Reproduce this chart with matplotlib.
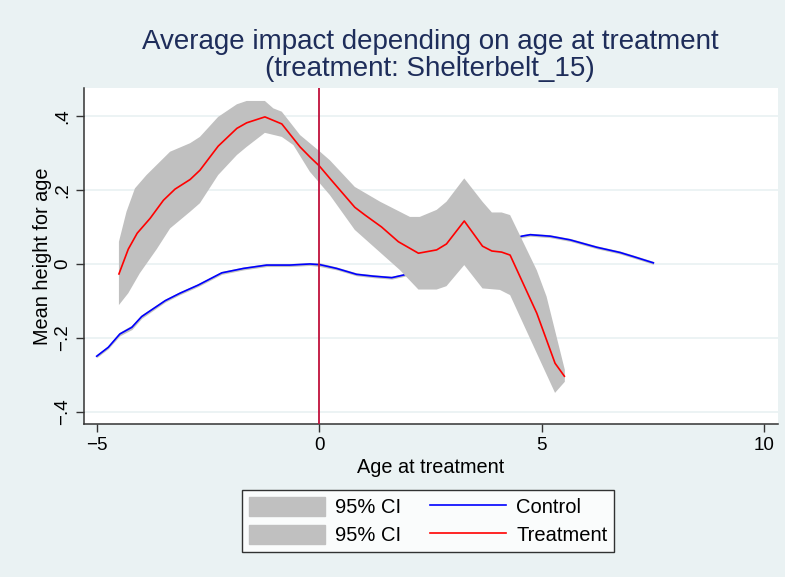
import matplotlib
matplotlib.use("Agg")
import matplotlib.pyplot as plt
import numpy as np
from matplotlib.patches import Patch
from matplotlib.lines import Line2D

plt.rcParams['font.family'] = ['Liberation Sans', 'DejaVu Sans']

# ---- data ----
treat_x = [-4.5, -4.29, -4.09, -3.8, -3.5, -3.24, -2.9, -2.68, -2.27, -1.85, -1.63,
           -1.22, -0.84, -0.43, -0.21, 0.0, 0.24, 0.8, 1.03, 1.4, 1.78, 2.23, 2.64,
           2.86, 3.26, 3.67, 3.88, 4.1, 4.29, 4.89, 5.3, 5.51]
treat_y = [-0.027, 0.040, 0.083, 0.123, 0.172, 0.202, 0.228, 0.253, 0.318, 0.366, 0.381,
           0.397, 0.378, 0.316, 0.289, 0.265, 0.231, 0.153, 0.132, 0.100, 0.060, 0.029, 0.038,
           0.054, 0.116, 0.048, 0.035, 0.032, 0.024, -0.133, -0.268, -0.303]

treat_ci_up_x = [-4.5, -4.33, -4.14, -3.88, -3.35, -2.9, -2.68, -2.27, -1.85, -1.63, -1.22,
                 -1.03, -0.84, -0.43, 0.02, 0.24, 0.8, 1.37, 2.04, 2.26, 2.64, 2.86, 3.26,
                 3.67, 3.88, 4.1, 4.29, 4.89, 5.11, 5.52]
treat_ci_up_y = [0.060, 0.141, 0.204, 0.240, 0.303, 0.326, 0.343, 0.397, 0.431, 0.440, 0.440,
                 0.420, 0.411, 0.348, 0.303, 0.280, 0.208, 0.168, 0.127, 0.127, 0.146, 0.168, 0.231,
                 0.168, 0.139, 0.139, 0.132, -0.017, -0.088, -0.286]
treat_ci_lo_x = [-4.5, -4.29, -4.03, -3.65, -3.35, -2.9, -2.68, -2.27, -1.85, -1.63, -1.22,
                 -0.84, -0.58, -0.21, 0.24, 0.8, 1.81, 2.23, 2.64, 2.86, 3.26, 3.67, 4.06,
                 4.29, 4.89, 5.3, 5.52]
treat_ci_lo_y = [-0.111, -0.079, -0.025, 0.040, 0.096, 0.141, 0.164, 0.240, 0.294, 0.316, 0.354,
                 0.343, 0.321, 0.249, 0.186, 0.092, -0.016, -0.069, -0.069, -0.060, -0.003, -0.066, -0.070,
                 -0.084, -0.241, -0.348, -0.318]

ctrl_x = [-5.0, -4.74, -4.48, -4.21, -3.99, -3.46, -3.13, -2.72, -2.19, -1.7, -1.18, -0.66,
          -0.21, 0.02, 0.39, 0.84, 1.22, 1.63, 1.89, 2.3, 2.7, 3.1, 3.5, 3.9, 4.3, 4.55,
          4.74, 5.19, 5.64, 6.24, 6.76, 7.06, 7.51]
ctrl_y = [-0.249, -0.225, -0.189, -0.171, -0.142, -0.099, -0.079, -0.057, -0.024, -0.012, -0.003, -0.003,
          0.0, -0.002, -0.012, -0.028, -0.033, -0.037, -0.030, -0.015, 0.0, 0.015, 0.035, 0.050, 0.065, 0.075,
          0.079, 0.075, 0.065, 0.045, 0.031, 0.020, 0.003]
ctrl_ci_hw = [0.004, 0.004, 0.005, 0.006, 0.005, 0.004, 0.004, 0.004, 0.004, 0.004, 0.004, 0.004,
              0.004, 0.005, 0.004, 0.004, 0.004, 0.004, 0.004, 0.004, 0.004, 0.004, 0.004, 0.004, 0.004, 0.004,
              0.004, 0.004, 0.004, 0.004, 0.004, 0.004, 0.004]

x_ticks = [-5, 0, 5, 10]
x_ticklabels = ["\u22125", "0", "5", "10"]
y_ticks = [-0.4, -0.2, 0.0, 0.2, 0.4]
y_ticklabels = ["\u2212.4", "\u2212.2", "0", ".2", ".4"]

title_lines = ["Average impact depending on age at treatment", "(treatment: Shelterbelt_15)"]

# ---- figure ----
BG = "#EAF2F3"
fig = plt.figure(figsize=(7.85, 5.77), dpi=100, facecolor=BG)
ax = fig.add_axes([84/785, 1-424/577, (778-84)/785, (424-88)/577])
ax.set_facecolor("white")

band_col = "#C0C0C0"
c_x = np.array(ctrl_x); c_y = np.array(ctrl_y); c_hw = np.array(ctrl_ci_hw)
ax.fill_between(c_x, c_y - c_hw, c_y + c_hw, color=band_col, lw=0, zorder=2)
ax.plot(ctrl_x, ctrl_y, color="#0000FF", lw=1.2, zorder=3)
poly_x = list(treat_ci_up_x) + list(treat_ci_lo_x[::-1])
poly_y = list(treat_ci_up_y) + list(treat_ci_lo_y[::-1])
ax.fill(poly_x, poly_y, color=band_col, lw=0, zorder=4)
ax.plot(treat_x, treat_y, color="#FF0000", lw=1.2, zorder=5)
ax.axvline(0, color="#C0103C", lw=1.3, zorder=6)

ax.set_xlim(-5.285, 10.31)
ax.set_ylim(-0.432, 0.475)
ax.set_xticks(x_ticks)
ax.set_xticklabels(x_ticklabels, fontsize=13.5)
ax.set_yticks(y_ticks)
ax.set_yticklabels(y_ticklabels, fontsize=13.5, rotation=90, va="center")
ax.tick_params(direction="out", length=6, width=1, color="#333333", pad=3)
for t in y_ticks:
    ax.axhline(t, color=BG, lw=1.3, zorder=1)
for s in ["top", "right"]:
    ax.spines[s].set_visible(False)
for s in ["left", "bottom"]:
    ax.spines[s].set_color("#333333")
    ax.spines[s].set_linewidth(1.1)

ax.set_xlabel("Age at treatment", fontsize=14.3, labelpad=3)
ax.set_ylabel("Mean height for age", fontsize=14.3, labelpad=2)

fig.text(0.548, 1-42/577, title_lines[0], ha="center", va="center", fontsize=20, color="#1E2D5A")
fig.text(0.548, 1-69/577, title_lines[1], ha="center", va="center", fontsize=20, color="#1E2D5A")

handles = [Patch(facecolor=band_col, edgecolor=band_col),
           Patch(facecolor=band_col, edgecolor=band_col),
           Line2D([], [], color="#0000FF", lw=1.2),
           Line2D([], [], color="#FF0000", lw=1.2)]
labels = ["95% CI", "95% CI", "Control", "Treatment"]
leg = fig.legend(handles, labels, ncol=2, loc="center", bbox_to_anchor=(428/785, 1-521/577),
                 fontsize=14.5, frameon=True, fancybox=False, edgecolor="black",
                 handlelength=3.8, handleheight=1.05, columnspacing=1.4, handletextpad=0.5,
                 labelspacing=0.38, borderpad=0.35)
leg.get_frame().set_linewidth(1.0)

fig.savefig("out.png", dpi=100, facecolor=BG)
